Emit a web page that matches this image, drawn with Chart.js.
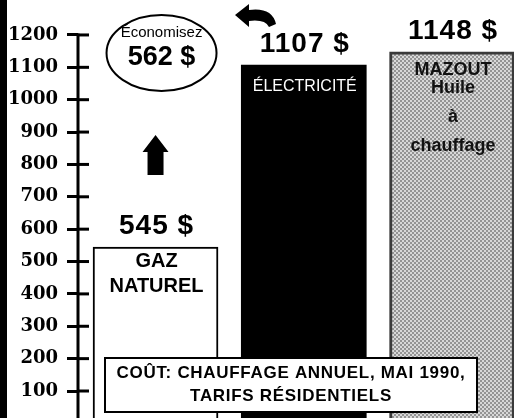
<!DOCTYPE html>
<html><head><meta charset="utf-8">
<script src="https://cdn.jsdelivr.net/npm/chart.js@4"></script>
<style>html,body{margin:0;padding:0;background:#fff;overflow:hidden}canvas{display:block}</style>
</head><body>
<canvas id="c" width="514" height="418"></canvas>
<script>
const categories = ['Gaz naturel', 'Électricité', 'Mazout'];
const costs = [545, 1107, 1148];
const tickValues = [100, 200, 300, 400, 500, 600, 700, 800, 900, 1000, 1100, 1200];
const barLabels = [['GAZ', 'NATUREL'], ['ÉLECTRICITÉ'], ['MAZOUT', 'Huile', 'à', 'chauffage']];
const footnote = ['COÛT: CHAUFFAGE ANNUEL, MAI 1990,', 'TARIFS RÉSIDENTIELS'];
const savingsTitle = 'Économisez';
const currency = '$';

const canvas = document.getElementById('c');
const ctx0 = canvas.getContext('2d');
function makePattern() {
  const p = document.createElement('canvas');
  p.width = 4; p.height = 4;
  const g = p.getContext('2d');
  g.fillStyle = '#d8d8d8'; g.fillRect(0, 0, 4, 4);
  g.fillStyle = '#949494'; g.fillRect(0, 0, 2, 2); g.fillRect(2, 2, 2, 2);
  return ctx0.createPattern(p, 'repeat');
}
const grayPattern = makePattern();
const SANS = '"Liberation Sans", Arial, Helvetica, sans-serif';

const decor = {
  id: 'decor',
  beforeDraw(chart) {
    const c = chart.ctx;
    c.save();
    c.fillStyle = '#fff'; c.fillRect(0, 0, chart.width, chart.height);
    c.fillStyle = '#000'; c.fillRect(0, 0, 7, chart.height);
    c.restore();
  },
  afterDatasetsDraw(chart) {
    const c = chart.ctx;
    const xs = chart.scales.x, ys = chart.scales.y, ca = chart.chartArea;
    c.save();
    // axis line from top tick downward + right halves of ticks
    c.strokeStyle = '#000'; c.lineWidth = 3;
    const topY = ys.getPixelForValue(tickValues[tickValues.length - 1]);
    c.beginPath(); c.moveTo(ca.left, topY - 1.5); c.lineTo(ca.left, chart.height); c.stroke();
    tickValues.forEach(v => {
      const y = ys.getPixelForValue(v);
      c.beginPath(); c.moveTo(ca.left, y); c.lineTo(ca.left + 11, y); c.stroke();
    });
    // value labels above bars
    c.textAlign = 'center'; c.textBaseline = 'middle';
    c.fillStyle = '#000';
    c.font = 'bold 28px ' + SANS;
    try { c.letterSpacing = '1px'; } catch (e) {}
    costs.forEach((v, i) => {
      c.fillText(v + ' ' + currency, xs.getPixelForValue(i) + 1, ys.getPixelForValue(v) - 21);
    });
    try { c.letterSpacing = '0px'; } catch (e) {}
    // labels inside bars
    const offs = [[15, 40], [22], [18, 36, 65, 94]];
    const styles = [
      { font: 'bold 20px ' + SANS, color: '#000' },
      { font: '16px ' + SANS, color: '#fff' },
      { font: 'bold 18px ' + SANS, color: '#111' }
    ];
    barLabels.forEach((lines, i) => {
      const top = ys.getPixelForValue(costs[i]);
      c.font = styles[i].font; c.fillStyle = styles[i].color;
      lines.forEach((t, j) => c.fillText(t, xs.getPixelForValue(i) + 1, top + offs[i][j]));
    });
    // savings ellipse
    const ex = xs.getPixelForValue(0) + 6, ey = 53;
    c.strokeStyle = '#000'; c.lineWidth = 2;
    c.beginPath(); c.ellipse(ex, ey, 55, 38, 0, 0, Math.PI * 2); c.stroke();
    c.fillStyle = '#000';
    c.font = '15px ' + SANS;
    c.fillText(savingsTitle, ex, ey - 20);
    c.font = 'bold 27px ' + SANS;
    c.fillText((costs[1] - costs[0]) + ' ' + currency, ex, ey + 5);
    // up arrow
    const ax = xs.getPixelForValue(0);
    c.beginPath();
    c.moveTo(ax, 135); c.lineTo(ax + 13, 152); c.lineTo(ax + 8, 152); c.lineTo(ax + 8, 175);
    c.lineTo(ax - 8, 175); c.lineTo(ax - 8, 152); c.lineTo(ax - 13, 152); c.closePath(); c.fill();
    // curved arrow pointing left
    c.beginPath();
    c.moveTo(235, 15); c.lineTo(249, 4); c.lineTo(249, 10);
    c.quadraticCurveTo(272, 7, 276, 24);
    c.lineTo(269, 27);
    c.quadraticCurveTo(265, 19, 249, 21);
    c.lineTo(249, 27); c.closePath(); c.fill();
    // footnote box
    c.fillStyle = '#fff'; c.fillRect(105, 358, 372, 54);
    c.strokeStyle = '#000'; c.lineWidth = 2; c.strokeRect(105, 358, 372, 54);
    c.fillStyle = '#000'; c.font = 'bold 17px ' + SANS;
    try { c.letterSpacing = '0.7px'; } catch (e) {}
    c.fillText(footnote[0], 291, 373);
    c.fillText(footnote[1], 291, 396);
    c.restore();
  }
};

new Chart(canvas, {
  type: 'bar',
  data: {
    datasets: [{
      label: 'Coût',
      data: costs.map((v, i) => ({ x: i, y: v })),
      backgroundColor: ['#ffffff', '#000000', grayPattern],
      borderColor: ['#000000', '#000000', '#3a3a3a'],
      borderWidth: [2, 0, 3],
      barThickness: 125
    }]
  },
  options: {
    responsive: false,
    animation: false,
    layout: { padding: 0 },
    plugins: { legend: { display: false }, tooltip: { enabled: false } },
    scales: {
      x: { type: 'linear', min: -0.523, max: 2.418, offset: false, display: false },
      y: {
        type: 'linear', min: 16.6, max: 1308,
        afterBuildTicks: s => { s.ticks = tickValues.map(v => ({ value: v })); },
        afterFit: s => { s.width = 78; s.paddingTop = 0; s.paddingBottom = 0; },
        ticks: { color: '#000', font: { family: 'DejaVu Serif', weight: 'bold', size: 18 }, padding: 9, callback: v => String(v) },
        grid: { drawOnChartArea: false, drawTicks: true, tickLength: 11, color: '#000', lineWidth: 3 },
        border: { display: false }
      }
    }
  },
  plugins: [decor]
});
</script>
</body></html>
